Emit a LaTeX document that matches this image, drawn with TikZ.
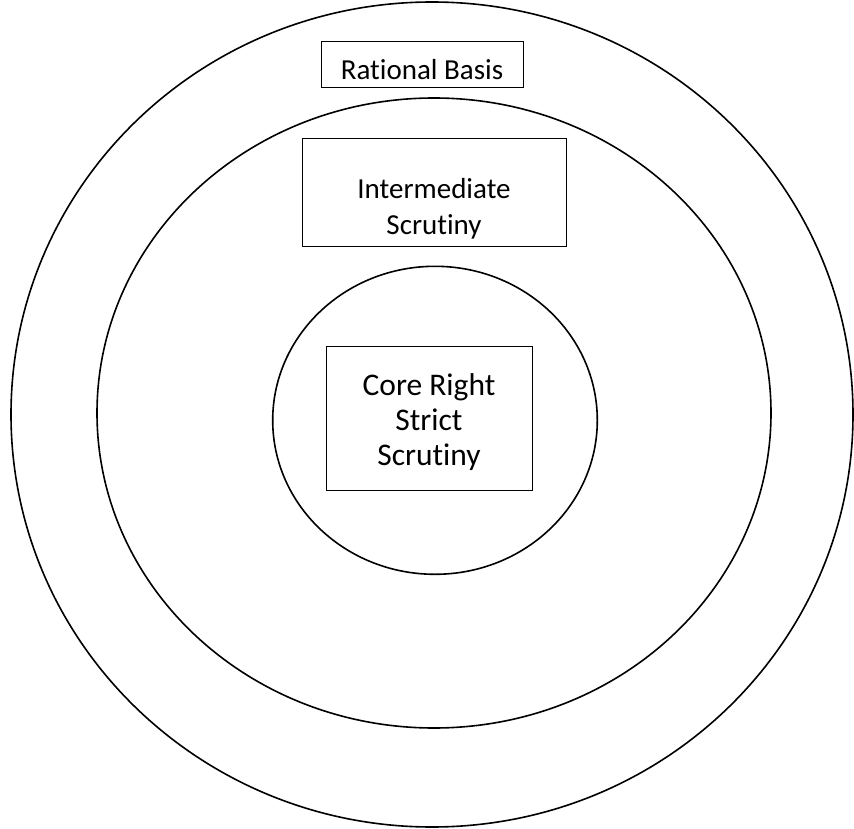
\documentclass[tikz,border=0pt]{standalone}
\usepackage{fontspec}
\setmainfont[Ligatures=NoCommon]{Carlito}
\begin{document}
\begin{tikzpicture}[x=1pt,y=-1pt,
  ring/.style={draw=black,line width=1.6pt},
  label box/.style={draw=black,line width=0.8pt,fill=white,inner sep=0pt},
  box text/.style={align=center,inner sep=0pt},
  outer text/.style={font=\fontsize{29}{36}\selectfont},
  inner text/.style={font=\fontsize{31.5}{35}\selectfont}]
\useasboundingbox (0,0) rectangle (854,829);
\draw[ring] (432,414.5) ellipse [x radius=421, y radius=412.5];
\draw[ring] (434,413) ellipse [x radius=337, y radius=315];
\draw[ring] (435,420.3) ellipse [x radius=162.3, y radius=154];
\node[label box,minimum width=202pt,minimum height=46pt] (rb) at (422,64) {};
\node[box text,outer text] (rbt) at ([yshift=-6pt]rb.center) {Rational Basis};
\node[label box,minimum width=264pt,minimum height=108pt] (is) at (434,192) {};
\node[box text,outer text] (ist) at ([yshift=-17pt]is.center) {Intermediate\\Scrutiny};
\node[label box,minimum width=206pt,minimum height=144pt] (cr) at (429,418) {};
\node[box text,inner text] (crt) at ([yshift=-4pt]cr.center) {Core Right\\Strict\\Scrutiny};
\end{tikzpicture}
\end{document}
